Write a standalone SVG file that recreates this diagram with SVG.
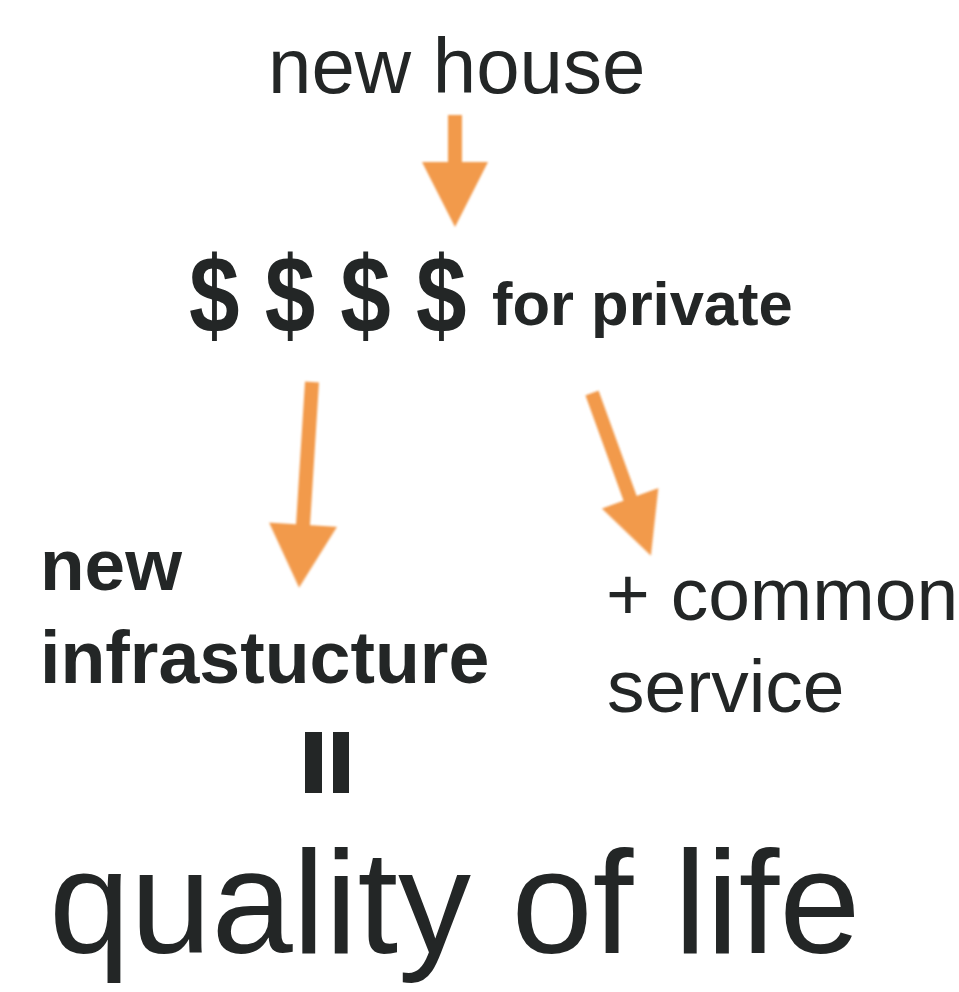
<svg xmlns="http://www.w3.org/2000/svg" width="959" height="992" viewBox="0 0 959 992">
<style>
text{font-family:"Liberation Sans",Arial,sans-serif;fill:#232626}
.b{font-weight:bold}
.arrow{fill:#f29a4c;filter:url(#soft)}
</style>
<defs>
<filter id="soft" x="-20%" y="-20%" width="140%" height="140%"><feGaussianBlur stdDeviation="1.2"/></filter>
</defs>
<rect width="959" height="992" fill="#ffffff"/>
<g id="connectors">
<polygon class="arrow" transform="translate(455,115)" points="-7,0 7,0 7,47 33,47 0,112 -33,47 -7,47"/>
<polygon class="arrow" transform="translate(312,382) rotate(3.6)" points="-7,0 7,0 7,143 34,143 0,206 -34,143 -7,143"/>
<polygon class="arrow" transform="translate(592,393) rotate(-19.9)" points="-7,0 7,0 7,112 30,112 0,173 -30,112 -7,112"/>
</g>
<g id="new-house"><text x="268" y="93" font-size="78">new house</text></g>
<g id="money">
<text class="b" transform="translate(189,333) scale(0.825,1)" font-size="110">$ $ $ $</text>
<text class="b" x="492" y="325" font-size="61.5">for private</text>
</g>
<g id="infrastructure">
<text class="b" x="40" y="590" font-size="73">new</text>
<text class="b" x="40" y="683" font-size="73.5">infrastucture</text>
</g>
<g id="common-service">
<text x="606" y="620" font-size="75">+ common</text>
<text x="607" y="712" font-size="75">service</text>
</g>
<g id="equals">
<rect x="305" y="732" width="17" height="61" fill="#232626"/>
<rect x="333" y="732" width="16" height="61" fill="#232626"/>
</g>
<g id="quality"><text x="49" y="953" font-size="146">quality of life</text></g>
</svg>
